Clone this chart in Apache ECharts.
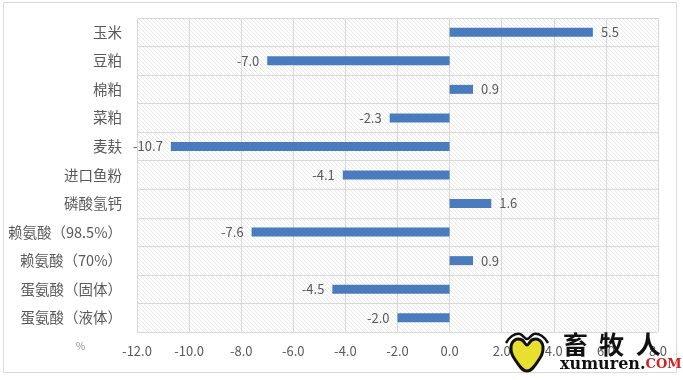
<!DOCTYPE html>
<html><head><meta charset="utf-8">
<script src="https://cdn.jsdelivr.net/npm/echarts@6/dist/echarts.min.js"></script>
<style>html,body{margin:0;padding:0;background:#fff}#c{width:683px;height:380px}</style>
</head><body><div id="c"></div>
<script>
var categories = ['玉米','豆粕','棉粕','菜粕','麦麸','进口鱼粉','磷酸氢钙','赖氨酸（98.5%）','赖氨酸（70%）','蛋氨酸（固体）','蛋氨酸（液体）'];
var values = [5.5, -7.0, 0.9, -2.3, -10.7, -4.1, 1.6, -7.6, 0.9, -4.5, -2.0];
var xMin = -12, xMax = 8, xStep = 2;

var pc = document.createElement('canvas');
pc.width = 4; pc.height = 4;
var g = pc.getContext('2d');
g.fillStyle = '#ffffff'; g.fillRect(0,0,4,4);
g.strokeStyle = '#e9e9e9'; g.lineWidth = 1;
g.beginPath(); g.moveTo(0,0); g.lineTo(4,4); g.moveTo(-1,3); g.lineTo(1,5); g.moveTo(3,-1); g.lineTo(5,1); g.stroke();

var chart = echarts.init(document.getElementById('c'));
var font = '"Noto Sans CJK SC", "Noto Sans", sans-serif';
var barData = values.map(function(v){ return {value: v, label: {position: v < 0 ? 'left' : 'right'}}; });
chart.setOption({
  animation: false,
  grid: {left: 137, right: 25, top: 18, bottom: 48, show: true, borderWidth: 0,
         backgroundColor: {image: pc, repeat: 'repeat'}},
  xAxis: {type: 'value', min: xMin, max: xMax, interval: xStep,
    axisLine: {show: false}, axisTick: {show: false},
    splitLine: {show: true, lineStyle: {color: '#d9d9d9', width: 1}},
    axisLabel: {color: '#595959', fontSize: 13, fontFamily: font, margin: 13,
      formatter: function(v){ return v.toFixed(1); }}},
  yAxis: {type: 'category', data: categories, inverse: true,
    axisLine: {show: true, lineStyle: {color: '#d9d9d9'}}, axisTick: {show: false},
    splitLine: {show: true, lineStyle: {color: '#d9d9d9', width: 1}},
    axisLabel: {color: '#595959', fontSize: 14.5, fontFamily: font, margin: 15}},
  series: [{type: 'bar', data: barData, barWidth: 9,
    itemStyle: {color: '#4a7cbd'},
    label: {show: true, fontSize: 13, color: '#595959', fontFamily: font, distance: 8,
      formatter: function(p){ return p.value.toFixed(1); }}
  }],
  graphic: [
    {type: 'rect', shape: {x: 3.5, y: 2.5, width: 673, height: 370}, style: {fill: 'none', stroke: '#d9d9d9', lineWidth: 1}, silent: true, z: -1},
    {type: 'text', left: 76, top: 341, style: {text: '%', fontSize: 10, fill: '#8c8c8c', fontFamily: font}},
    {type: 'polygon', shape: {points: [[527,371],[514,358],[511,347],[515,340],[522,340],[527,345],[532,340],[539,340],[543,347],[540,358]], smooth: 0.4},
      style: {fill: '#e8e030', stroke: '#111', lineWidth: 3}, z: 10},
    {type: 'polyline', shape: {points: [[506,343],[512,336],[520,334],[527,339],[534,334],[542,336],[548,343]], smooth: 0.4},
      style: {fill: 'none', stroke: '#111', lineWidth: 2.5}, z: 10},
    {type: 'text', left: 563, top: 332, style: {text: '畜  牧  人', fontSize: 25, fontWeight: 'bold', fill: '#111', fontFamily: font}, z: 10},
    {type: 'text', left: 560, top: 357, style: {rich: {a: {fontSize: 16, fontWeight: 'bold', fill: '#111', fontFamily: '"DejaVu Serif", serif'}, b: {fontSize: 13, fontWeight: 'bold', fill: '#d42020', fontFamily: '"DejaVu Serif", serif'}}, text: '{a|xumuren.}{b|COM}'}, z: 10}
  ]
});
</script></body></html>
